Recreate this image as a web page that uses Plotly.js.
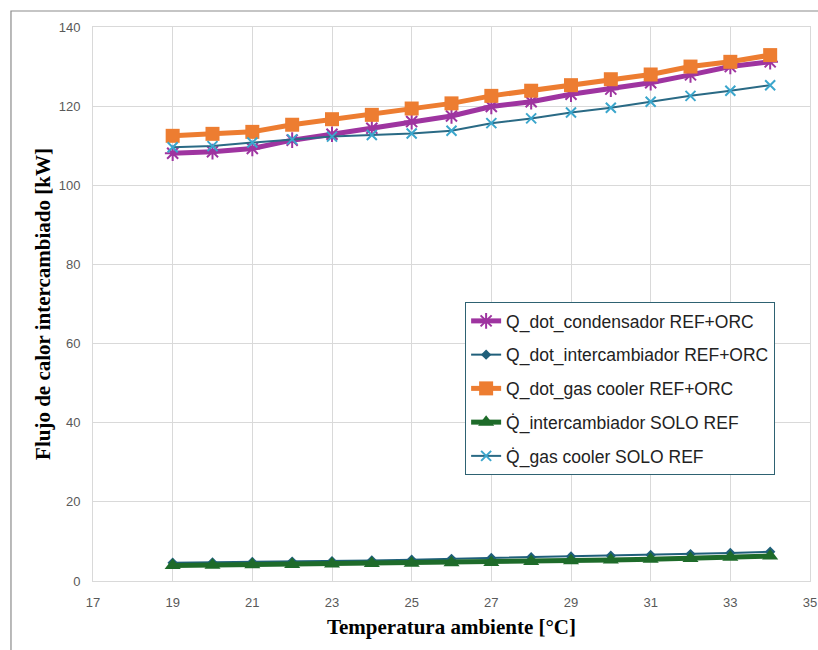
<!DOCTYPE html>
<html>
<head>
<meta charset="utf-8">
<script src="https://cdn.plot.ly/plotly-3.0.1.min.js"></script>
<style>html,body{margin:0;padding:0;background:#fff;}#chart{width:818px;height:650px;}</style>
</head>
<body>
<div id="chart"></div>
<script>
var temperatura = [19,20,21,22,23,24,25,26,27,28,29,30,31,32,33,34];
var condensadorRefOrc = [108.1,108.5,109.3,111.4,112.9,114.4,116.1,117.5,119.9,121.1,123.0,124.3,125.9,127.9,130.0,131.2];
var intercambiadorRefOrc = [4.6,4.7,4.8,4.9,5.0,5.2,5.4,5.6,5.8,6.0,6.2,6.4,6.6,6.8,7.1,7.4];
var gasCoolerRefOrc = [112.5,113.0,113.5,115.3,116.7,117.8,119.4,120.7,122.6,123.9,125.3,126.8,128.0,130.0,131.2,132.9];
var intercambiadorSoloRef = [3.9,4.0,4.1,4.2,4.3,4.4,4.5,4.6,4.7,4.9,5.1,5.3,5.5,5.7,6.0,6.3];
var gasCoolerSoloRef = [109.6,109.9,110.8,111.6,112.3,112.7,113.1,113.8,115.7,116.9,118.4,119.6,121.1,122.6,123.9,125.3];
var seriesNames = ["Q_dot_condensador REF+ORC","Q_dot_intercambiador REF+ORC","Q_dot_gas cooler REF+ORC","Q\u0307_intercambiador SOLO REF","Q\u0307_gas cooler SOLO REF"];
var xTicks = [17,19,21,23,25,27,29,31,33,35];
var yTicks = [0,20,40,60,80,100,120,140];

var traces = [
  {x: temperatura, y: condensadorRefOrc, name: seriesNames[0], legendgroup:"a", mode:"lines+markers",
   line:{color:"#9E34A0", width:5}, marker:{symbol:"asterisk-open", size:13, color:"#9E34A0", line:{color:"#9E34A0", width:2}}},
  {x: temperatura, y: intercambiadorRefOrc, name: seriesNames[1], legendgroup:"b", mode:"lines+markers",
   line:{color:"#1F5F7A", width:2}, marker:{symbol:"diamond", size:8, color:"#1F5F7A"}},
  {x: temperatura, y: gasCoolerRefOrc, name: seriesNames[2], legendgroup:"c", mode:"lines+markers",
   line:{color:"#ED7D31", width:5}, marker:{symbol:"square", size:14, color:"#ED7D31"}},
  {x: temperatura, y: intercambiadorSoloRef, name: seriesNames[3], legendgroup:"d", mode:"lines+markers",
   line:{color:"#1E6B2A", width:5}, marker:{symbol:"triangle-up", size:14, color:"#1E6B2A"}},
  {x: temperatura, y: gasCoolerSoloRef, name: seriesNames[4], legendgroup:"e", mode:"lines+markers",
   line:{color:"#2A6A85", width:2}, marker:{symbol:"x-thin-open", size:10, color:"#3BA6CC", line:{color:"#3BA6CC", width:2}}}
];

var layout = {
  width: 818, height: 650,
  margin: {l:93, r:8, t:27, b:69},
  paper_bgcolor: "#ffffff", plot_bgcolor: "#ffffff",
  showlegend: true,
  legend: {x:0.519, y:0.5036, xanchor:"left", yanchor:"top", bgcolor:"#ffffff",
    bordercolor:"#2E6272", borderwidth:1, traceorder:"grouped", tracegroupgap:8,
    font:{family:"Liberation Sans, Arial, sans-serif", size:17.5, color:"#222222"}},
  xaxis: {range:[17,35], tickvals:xTicks, ticktext:xTicks.map(String), showgrid:true, gridcolor:"#D9D9D9",
    zeroline:false, showline:true, linecolor:"#D9D9D9", mirror:true, ticks:"", ticklen:0, ticklabelstandoff:9,
    tickfont:{family:"Liberation Sans, Arial, sans-serif", size:13, color:"#595959"},
    title:{text:"Temperatura ambiente [°C]", standoff:10, font:{family:"Liberation Serif, Times New Roman, serif", size:21, color:"#000000", weight:"bold"}}},
  yaxis: {range:[0,140], tickvals:yTicks, ticktext:yTicks.map(String), showgrid:true, gridcolor:"#D9D9D9",
    zeroline:false, showline:true, linecolor:"#D9D9D9", mirror:true, ticks:"", ticklen:0, ticklabelstandoff:9,
    tickfont:{family:"Liberation Sans, Arial, sans-serif", size:13, color:"#595959"},
    title:{text:"Flujo de calor intercambiado [kW]", standoff:2, font:{family:"Liberation Serif, Times New Roman, serif", size:21, color:"#000000", weight:"bold"}}},
  shapes: [
    {type:"rect", xref:"paper", yref:"paper", x0:-0.1144, x1:1.2, y0:-0.3, y1:1.0289,
     line:{color:"#8C8C8C", width:1.2}, fillcolor:"rgba(0,0,0,0)", layer:"below"}
  ]
};

Plotly.newPlot("chart", traces, layout, {displayModeBar:false, staticPlot:true});
</script>
</body>
</html>
